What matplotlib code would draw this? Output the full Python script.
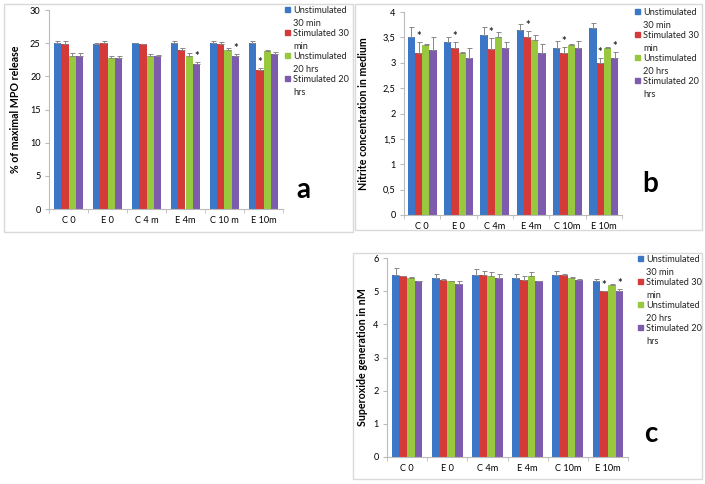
import matplotlib
matplotlib.use("Agg")
import matplotlib.pyplot as plt
from matplotlib.patches import Rectangle
import numpy as np

plt.rcParams['font.family'] = ['Lato', 'DejaVu Sans']

series = ["Unstimulated\n30 min", "Stimulated 30\nmin", "Unstimulated\n20 hrs", "Stimulated 20\nhrs"]
colors = ["#3b77c6", "#d43a38", "#97c83e", "#7d5cae"]

# panel a: MPO release
labels_a = ["C 0", "E 0", "C 4 m", "E 4m", "C 10 m", "E 10m"]
mpo = [
    [25.0, 24.8, 25.0, 25.0, 25.0, 25.1],
    [24.8, 25.0, 24.8, 24.0, 24.8, 21.0],
    [23.1, 22.8, 23.0, 23.0, 23.9, 23.8],
    [23.0, 22.8, 23.0, 21.9, 23.0, 23.4],
]
mpo_err = [
    [0.4, 0.3, 0.1, 0.3, 0.4, 0.3],
    [0.5, 0.4, 0.1, 0.2, 0.4, 0.3],
    [0.4, 0.2, 0.3, 0.5, 0.3, 0.1],
    [0.5, 0.3, 0.2, 0.3, 0.4, 0.3],
]
mpo_stars = [(3, 3), (4, 3), (5, 1)]  # (group, series)

# panel b: nitrite
labels_bc = ["C 0", "E 0", "C 4m", "E 4m", "C 10m", "E 10m"]
nitrite = [
    [3.50, 3.40, 3.55, 3.65, 3.30, 3.68],
    [3.20, 3.30, 3.28, 3.50, 3.20, 3.00],
    [3.35, 3.20, 3.50, 3.45, 3.35, 3.30],
    [3.25, 3.10, 3.30, 3.20, 3.30, 3.10],
]
nitrite_err = [
    [0.20, 0.10, 0.15, 0.12, 0.12, 0.10],
    [0.20, 0.10, 0.20, 0.12, 0.12, 0.10],
    [0.02, 0.01, 0.10, 0.10, 0.02, 0.01],
    [0.25, 0.20, 0.10, 0.17, 0.12, 0.12],
]
nitrite_stars = [(0, 1), (1, 1), (2, 1), (3, 1), (4, 1), (5, 1), (5, 3)]

# panel c: superoxide
superox = [
    [5.50, 5.40, 5.50, 5.40, 5.50, 5.30],
    [5.45, 5.35, 5.50, 5.35, 5.50, 5.00],
    [5.40, 5.30, 5.45, 5.47, 5.40, 5.20],
    [5.30, 5.22, 5.40, 5.30, 5.35, 5.00],
]
superox_err = [
    [0.20, 0.12, 0.17, 0.12, 0.12, 0.08],
    [0.02, 0.02, 0.12, 0.10, 0.01, 0.01],
    [0.03, 0.02, 0.12, 0.10, 0.02, 0.01],
    [0.02, 0.10, 0.12, 0.02, 0.01, 0.08],
]
superox_stars = [(5, 1), (5, 3)]

W, H = 705, 484
fig = plt.figure(figsize=(W / 100, H / 100), dpi=100)


def px_axes(l, t, r, b):
    return fig.add_axes([l / W, 1 - b / H, (r - l) / W, (b - t) / H])


def px_box(l, t, r, b):
    fig.patches.append(Rectangle((l / W, 1 - b / H), (r - l) / W, (b - t) / H,
                                 transform=fig.transFigure, fill=False,
                                 edgecolor="#d9d9d9", linewidth=1.0))


def legend(x, y):
    for i, s in enumerate(series):
        yy = y + i * 23
        fig.patches.append(Rectangle((x / W, 1 - (yy + 4) / H), 5 / W, 5 / H,
                                     transform=fig.transFigure, color=colors[i]))
        fig.text((x + 8) / W, 1 - (yy - 2) / H, s, fontsize=6.6, va="top",
                 ha="left", linespacing=1.55, color="#222222")


def panel(ax, data, err, stars, labels, ymax, ystep, ylabel, bw, fmt=None):
    x = np.arange(len(labels))
    for i in range(4):
        ax.bar(x + (i - 1.5) * bw, data[i], bw, color=colors[i],
               yerr=[np.zeros(len(labels)), err[i]], capsize=1.8,
               error_kw=dict(ecolor="#888888", elinewidth=0.7, capthick=0.7))
    for g, s in stars:
        ax.text(g + (s - 1.5) * bw, data[s][g] + err[s][g], "*", ha="center",
                va="bottom", fontsize=8, fontweight="bold", color="#222222")
    ax.set_xlim(-0.5, len(labels) - 0.5)
    ax.set_ylim(0, ymax)
    ticks = np.arange(0, ymax + ystep / 2, ystep)
    ax.set_yticks(ticks)
    if fmt:
        ax.set_yticklabels([fmt(t) for t in ticks])
    ax.set_xticks(x)
    ax.set_xticklabels(labels)
    ax.set_xticks(np.arange(-0.5, len(labels), 1), minor=True)
    ax.tick_params(axis="x", which="major", length=0, pad=5, labelsize=6.6)
    ax.tick_params(axis="x", which="minor", length=3, color="#bbbbbb")
    ax.tick_params(axis="y", length=3, color="#bbbbbb", labelsize=6.6, pad=3)
    for sp in ["top", "right"]:
        ax.spines[sp].set_visible(False)
    for sp in ["left", "bottom"]:
        ax.spines[sp].set_color("#bbbbbb")
    ax.set_ylabel(ylabel, fontsize=7.7, fontweight="bold")
    return ax


# panel a
px_box(4, 4, 353, 232)
ax_a = px_axes(49, 10, 283, 209)
panel(ax_a, mpo, mpo_err, mpo_stars, labels_a, 30, 5,
      "% of maximal MPO release", 0.19)
ax_a.yaxis.set_label_coords(-28 / 234, 0.5)
fig.text(303 / W, 1 - 190 / H, "a", fontsize=20, fontweight="bold", ha="center", va="center")
legend(285, 8)

# panel b
px_box(355, 4, 702, 230)
ax_b = px_axes(404, 12, 622, 215)
panel(ax_b, nitrite, nitrite_err, nitrite_stars, labels_bc, 4, 0.5,
      "Nitrite concentration in medium", 0.2,
      fmt=lambda t: ("%g" % t).replace(".", ","))
ax_b.yaxis.set_label_coords(-35 / 218, 0.5)
fig.text(650 / W, 1 - 184 / H, "b", fontsize=20, fontweight="bold", ha="center", va="center")
legend(635, 10)

# panel c
px_box(353, 253, 702, 479)
ax_c = px_axes(387, 258, 628, 457)
panel(ax_c, superox, superox_err, superox_stars, labels_bc, 6, 1,
      "Superoxide generation in nM", 0.19)
ax_c.yaxis.set_label_coords(-19 / 241, 0.5)
fig.text(651 / W, 1 - 434 / H, "c", fontsize=20, fontweight="bold", ha="center", va="center")
legend(638, 257)

fig.savefig("out.png", dpi=100)
